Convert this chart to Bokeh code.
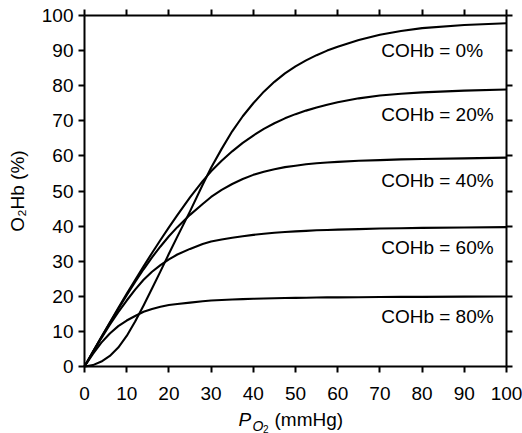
from bokeh.plotting import figure
from bokeh.models import Range1d, LinearAxis, FixedTicker, ColumnDataSource
from bokeh.embed import file_html
from bokeh.resources import INLINE
from bokeh.core.properties import value

# ---- data ----
po2 = [0, 2, 4, 6, 8, 10, 12, 14, 16, 18, 20, 22, 25, 28, 30, 32.5, 35, 37.5, 40, 42.5, 45, 47.5,
       50, 52.5, 55, 57.5, 60, 65, 70, 75, 80, 90, 100]
cohb_0 = [0, 0.4, 1.4, 3.0, 5.4, 8.7, 12.8, 17.4, 22.2, 27.1, 32.1, 37.0, 44.2, 51.8, 56.6, 62.0, 67.0,
          71.3, 75.0, 78.3, 81.1, 83.5, 85.5, 87.2, 88.7, 90.0, 91.1, 93.0, 94.5, 95.6, 96.4, 97.3, 97.8]
cohb_20 = [0, 4.2, 8.4, 12.56, 16.66, 20.7, 24.66, 28.54, 32.34, 36.04, 39.64, 43.14, 48.2, 52.8, 55.6,
           58.6, 61.3, 63.7, 65.8, 67.7, 69.3, 70.7, 71.9, 72.9, 73.8, 74.6, 75.3, 76.4, 77.2, 77.7, 78.1,
           78.6, 78.9]
cohb_40 = [0, 4.2, 8.3, 12.4, 16.4, 20.3, 24.1, 27.7, 31.1, 34.2, 37.1, 39.7, 43.2, 46.3, 48.3, 50.3,
           52.0, 53.4, 54.6, 55.5, 56.2, 56.8, 57.2, 57.6, 57.9, 58.1, 58.3, 58.6, 58.8, 59.0, 59.1, 59.3, 59.5]
cohb_60 = [0, 4.1, 8.1, 11.9, 15.5, 18.8, 21.9, 24.7, 27.0, 28.9, 30.5, 31.9, 33.5, 34.9, 35.6, 36.2,
           36.7, 37.1, 37.5, 37.8, 38.1, 38.3, 38.5, 38.65, 38.8, 38.9, 39.0, 39.15, 39.3, 39.4, 39.5, 39.6, 39.7]
cohb_80 = [0, 3.6, 6.8, 9.4, 11.5, 13.1, 14.4, 15.6, 16.4, 17.0, 17.5, 17.8, 18.2, 18.6, 18.8, 18.95,
           19.1, 19.2, 19.3, 19.38, 19.45, 19.5, 19.55, 19.6, 19.65, 19.68, 19.7, 19.75, 19.8, 19.83, 19.85,
           19.9, 19.95]
series = [cohb_0, cohb_20, cohb_40, cohb_60, cohb_80]
series_labels = ["COHb = 0%", "COHb = 20%", "COHb = 40%", "COHb = 60%", "COHb = 80%"]
ticks = [0, 10, 20, 30, 40, 50, 60, 70, 80, 90, 100]
axis_min, axis_max = 0, 100

# ---- layout (pixels) ----
W, H = 522, 433
PL, PR, PT, PB = 84, 16, 15, 67          # plot-box margins inside the canvas
sx = (W - PL - PR) / (axis_max - axis_min)
sy = (H - PT - PB) / (axis_max - axis_min)
x_range = Range1d(axis_min - PL / sx, axis_max + PR / sx)
y_range = Range1d(axis_min - PB / sy, axis_max + PT / sy)

# curve label anchors (data units, vertical centre of text)
label_x = [70.3] * 5
label_y = [90.17, 71.79, 53.08, 34.00, 14.25]

FONT = "Liberation Sans"
FS = "19px"

p = figure(width=W, height=H, output_backend="svg", toolbar_location=None,
           x_range=x_range, y_range=y_range, min_border=0,
           min_border_left=0, min_border_right=0, min_border_top=0, min_border_bottom=0,
           x_axis_location=None, y_axis_location=None)
p.outline_line_color = None
p.xgrid.visible = False
p.ygrid.visible = False
p.background_fill_color = "white"
p.border_fill_color = "white"

def style_axis(ax, loc, labels=True):
    ax.fixed_location = loc
    ax.bounds = (axis_min, axis_max)
    ax.axis_line_width = 2
    ax.axis_line_color = "black"
    if labels:
        ax.ticker = FixedTicker(ticks=ticks)
        ax.major_tick_line_width = 2
        ax.major_tick_line_color = "black"
        ax.major_tick_out = 6
        ax.major_tick_in = 0
        ax.minor_tick_line_color = None
        ax.major_label_text_font = FONT
        ax.major_label_text_font_size = FS
        ax.major_label_text_color = "black"
    else:
        # ticks without labels: use minor ticks only
        ax.ticker = FixedTicker(ticks=[], minor_ticks=ticks)
        ax.major_tick_line_color = None
        ax.minor_tick_line_width = 2
        ax.minor_tick_line_color = "black"
        ax.minor_tick_out = 6
        ax.minor_tick_in = 0

bottom = LinearAxis()
style_axis(bottom, axis_min)
bottom.major_label_standoff = 14
p.add_layout(bottom, "below")

left = LinearAxis()
style_axis(left, axis_min)
left.major_label_standoff = 5
left.axis_label = "O\u2082Hb (%)"
left.axis_label_text_font = FONT
left.axis_label_text_font_size = FS
left.axis_label_text_font_style = "normal"
left.axis_label_text_color = "black"
left.axis_label_standoff = 11
p.add_layout(left, "left")

top = LinearAxis()
style_axis(top, axis_max, labels=False)
p.add_layout(top, "above")

right = LinearAxis()
style_axis(right, axis_max, labels=False)
p.add_layout(right, "right")

for ys in series:
    p.line(po2, ys, line_color="black", line_width=2.1, line_join="round")

src = ColumnDataSource(dict(x=label_x, y=label_y, t=series_labels))
p.text(x="x", y="y", text="t", source=src, text_font=value(FONT), text_font_size=FS,
       text_color="black", text_align="left", text_baseline="middle")

# x axis title: P with subscript O2, then (mmHg)
def px_to_x(px):
    return axis_min + (px - PL) / sx

def py_to_y(py):
    return axis_min + (H - PB - py) / sy

p.text(x=[px_to_x(238)], y=[py_to_y(418.9)], text=["P"], text_font=value(FONT), text_font_size=FS,
       text_font_style="italic", text_color="black", text_baseline="middle")
p.text(x=[px_to_x(252)], y=[py_to_y(425)], text=["O"], text_font=value(FONT), text_font_size="14px",
       text_font_style="italic", text_color="black", text_baseline="middle")
p.text(x=[px_to_x(262.5)], y=[py_to_y(428)], text=["2"], text_font=value(FONT), text_font_size="10px",
       text_color="black", text_baseline="middle")
p.text(x=[px_to_x(274)], y=[py_to_y(418.9)], text=["(mmHg)"], text_font=value(FONT), text_font_size=FS,
       text_color="black", text_baseline="middle")

open("out.html", "w").write(file_html(p, INLINE))
